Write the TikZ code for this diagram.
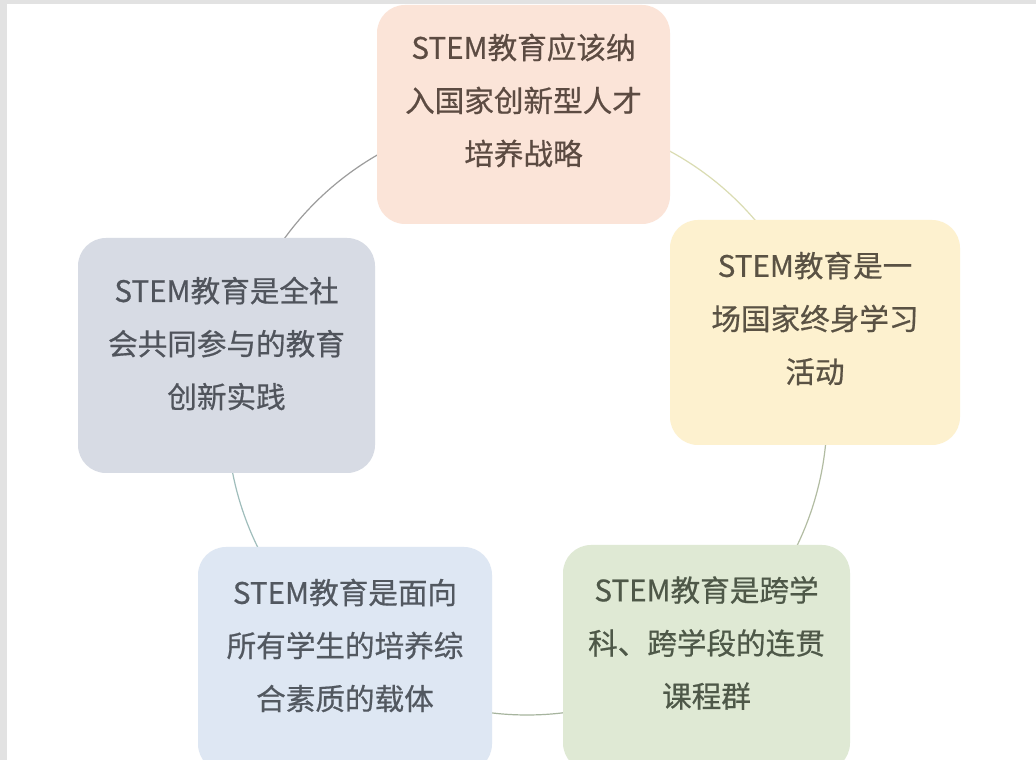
\documentclass[tikz,border=0pt]{standalone}
\usepackage{fontspec}
\newfontfamily\cjk[FakeBold=0.6]{Noto Sans CJK SC}
\definecolor{peach}{HTML}{FBE4D8}
\definecolor{cream}{HTML}{FDF1CF}
\definecolor{slate}{HTML}{D7DBE4}
\definecolor{skyb}{HTML}{DEE7F3}
\definecolor{sage}{HTML}{DFE9D4}
\definecolor{txtA}{HTML}{5C4B42}
\definecolor{txtB}{HTML}{5A5244}
\definecolor{txtC}{HTML}{50545C}
\definecolor{txtD}{HTML}{525860}
\definecolor{txtE}{HTML}{4E5848}
\definecolor{arcA}{HTML}{9C9C9C}
\definecolor{arcB}{HTML}{DADCB2}
\definecolor{arcC}{HTML}{B2BCA2}
\definecolor{arcD}{HTML}{A6B49E}
\definecolor{arcE}{HTML}{9FBDBB}
\definecolor{frame}{HTML}{E2E2E2}
\tikzset{
  card/.style={rounded corners=28pt, inner sep=0pt, draw=none},
  cardtext/.style={font=\cjk\fontsize{29.6}{53}\selectfont, align=center, inner sep=0pt},
  ring/.style={line width=1.2pt}
}
\begin{document}
\begin{tikzpicture}[x=1pt,y=1pt]
\useasboundingbox (0,0) rectangle (1036,760);
\clip (0,0) rectangle (1036,760);
\fill[white] (0,0) rectangle (1036,760);
% frame strips
\fill[frame] (0,0) rectangle (7,760);
\fill[frame] (0,756) rectangle (1036,760);
% ring arcs (center 527,345 radius 300)
\coordinate (c) at (527,345);
\draw[ring, arcB] (c) ++(80:300) arc[start angle=80, end angle=22, radius=300];
\draw[ring, arcC] (c) ++(15:300) arc[start angle=15, end angle=-60, radius=300];
\draw[ring, arcD] (c) ++(-60:300) arc[start angle=-60, end angle=-120, radius=300];
\draw[ring, arcE] (c) ++(-120:300) arc[start angle=-120, end angle=-192, radius=300];
\draw[ring, arcA] (c) ++(168:300) arc[start angle=168, end angle=100, radius=300];
% cards
\node[card, fill=peach, minimum width=293pt, minimum height=219pt] (top) at (523.5,645.5) {};
\node[card, fill=cream, minimum width=290pt, minimum height=225pt] (right) at (815,427.5) {};
\node[card, fill=slate, minimum width=297pt, minimum height=235pt] (left) at (226.5,404.5) {};
\node[card, fill=skyb, minimum width=294pt, minimum height=225pt] (botl) at (345,100.5) {};
\node[card, fill=sage, minimum width=287pt, minimum height=226pt] (botr) at (706.5,102) {};
% texts
\node[cardtext, text=txtA] (ttop) at ([yshift=14pt]top.center) {STEM教育应该纳\\入国家创新型人才\\培养战略};
\node[cardtext, text=txtB] (tright) at ([yshift=14pt]right.center) {STEM教育是一\\场国家终身学习\\活动};
\node[cardtext, text=txtC] (tleft) at ([yshift=12pt]left.center) {STEM教育是全社\\会共同参与的教育\\创新实践};
\node[cardtext, text=txtD] (tbotl) at ([yshift=14pt]botl.center) {STEM教育是面向\\所有学生的培养综\\合素质的载体};
\node[cardtext, text=txtE] (tbotr) at ([yshift=15pt]botr.center) {STEM教育是跨学\\科、跨学段的连贯\\课程群};
\end{tikzpicture}
\end{document}
